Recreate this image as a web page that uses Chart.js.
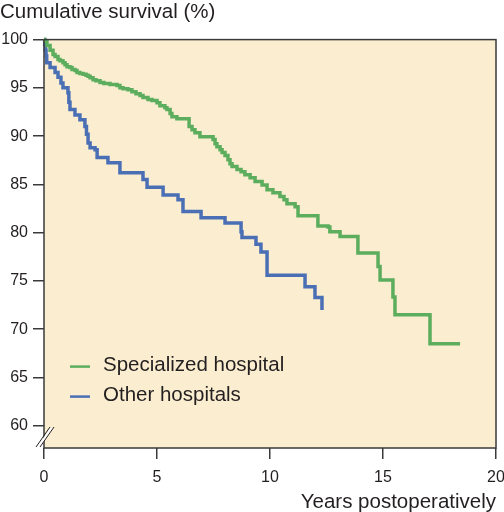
<!DOCTYPE html>
<html>
<head>
<meta charset="utf-8">
<script src="https://cdn.jsdelivr.net/npm/chart.js@4.4.1/dist/chart.umd.min.js"></script>
<style>
  html, body { margin: 0; padding: 0; background: #fff; }
  #wrap { width: 504px; height: 512px; position: relative; }
</style>
</head>
<body>
<div id="wrap"><canvas id="survivalChart"></canvas></div>
<script>
// Kaplan-Meier steps: years postoperatively and cumulative survival (%)
var specYears = [0, 0.04, 0.13, 0.27, 0.40, 0.49, 0.62, 0.71, 0.84, 0.93, 1.02, 1.15, 1.24, 1.37, 1.46, 1.59, 1.73, 1.86, 1.95, 2.04,
  2.17, 2.30, 2.48, 2.65, 2.92, 3.23, 3.36, 3.50, 3.72, 3.89, 4.07, 4.25, 4.38, 4.60, 4.78, 5.00, 5.13, 5.35, 5.44, 5.58,
  5.66, 5.88, 6.42, 6.55, 6.68, 6.90, 7.48, 7.57, 7.65, 7.79, 7.88, 8.01, 8.14, 8.23, 8.32, 8.54, 8.72, 8.89, 9.12, 9.34,
  9.65, 9.87, 10.13, 10.44, 10.62, 10.75, 11.11, 11.24, 12.12, 12.57, 12.65, 13.10, 13.89, 14.78, 14.87, 15.44, 15.53, 17.08, 18.41];
var specSurvival = [100, 99.8, 99.4, 98.9, 98.45, 98.25, 97.95, 97.8, 97.6, 97.4, 97.2, 97.1, 96.9, 96.8, 96.6, 96.5, 96.4, 96.3, 96.2, 96.05,
  95.85, 95.75, 95.55, 95.45, 95.35, 95.25, 95.0, 94.9, 94.8, 94.6, 94.4, 94.2, 94.0, 93.8, 93.7, 93.45, 93.15, 92.95, 92.75, 92.35,
  92.0, 91.8, 91.0, 90.65, 90.35, 89.95, 89.65, 89.2, 88.9, 88.6, 88.3, 88.0, 87.55, 87.15, 86.85, 86.55, 86.3, 86.0, 85.7, 85.3,
  84.95, 84.45, 84.15, 83.75, 83.4, 83.0, 82.7, 81.75, 80.7, 80.6, 80.1, 79.6, 77.9, 76.5, 75.1, 73.35, 71.5, 68.5, 68.5];

var otherYears = [0, 0.03, 0.06, 0.09, 0.12, 0.27, 0.49, 0.62, 0.75, 0.84, 1.06, 1.10, 1.15, 1.37, 1.59, 1.81, 1.88, 1.95, 2.04, 2.26,
  2.35, 2.83, 3.36, 4.38, 4.56, 5.27, 5.93, 6.15, 6.95, 8.01, 8.72, 8.76, 9.38, 9.60, 9.87, 11.55, 11.99, 12.30];
var otherSurvival = [100, 99.5, 98.9, 98.3, 97.6, 97.1, 96.6, 96.1, 95.5, 95.0, 94.5, 93.5, 92.75, 92.2, 91.7, 91.0, 90.2, 89.3, 88.8, 88.6,
  87.8, 87.25, 86.2, 85.5, 84.7, 83.9, 83.4, 82.2, 81.55, 81.0, 80.1, 79.5, 78.8, 78.0, 75.6, 74.4, 73.3, 72.0];

var seriesLabels = ["Specialized hospital", "Other hospitals"];
var yTicks = [60, 65, 70, 75, 80, 85, 90, 95, 100];
var xTicks = [0, 5, 10, 15, 20];

var FONT = "'Liberation Sans', Arial, Helvetica, sans-serif";
var INK = "#231f20";
var GREEN = "#5cad5d";
var BLUE = "#4a6fb5";
var PAPER = "#fbeed0";

function toPoints(xs, ys) {
  return xs.map(function (x, i) { return { x: x, y: ys[i] }; });
}

// background, frame, axis break and legend
var decor = {
  id: "decor",
  beforeDatasetsDraw: function (chart) {
    var a = chart.chartArea, ctx = chart.ctx;
    ctx.save();
    ctx.fillStyle = PAPER;
    ctx.fillRect(a.left, a.top, a.right - a.left, a.bottom - a.top);
    ctx.restore();
  },
  afterDraw: function (chart) {
    var a = chart.chartArea, ctx = chart.ctx;
    ctx.save();
    ctx.strokeStyle = "#3a3a3a";
    ctx.lineWidth = 1.5;
    ctx.strokeRect(a.left, a.top, a.right - a.left, a.bottom - a.top);

    // axis break "//"
    var yb = a.bottom - 11;
    ctx.fillStyle = "#fff";
    ctx.beginPath();
    ctx.moveTo(a.left - 6, yb + 9); ctx.lineTo(a.left + 6, yb - 9);
    ctx.lineTo(a.left + 9, yb - 9); ctx.lineTo(a.left - 3, yb + 9);
    ctx.closePath();
    ctx.fill();
    ctx.lineWidth = 1;
    ctx.strokeStyle = INK;
    ctx.beginPath();
    ctx.moveTo(a.left - 8, yb + 10); ctx.lineTo(a.left + 6, yb - 10);
    ctx.moveTo(a.left - 4, yb + 10); ctx.lineTo(a.left + 10, yb - 10);
    ctx.stroke();

    // legend
    ctx.font = "20.5px " + FONT;
    ctx.textBaseline = "middle";
    ctx.fillStyle = INK;
    chart.data.datasets.forEach(function (ds, i) {
      var y = a.top + 326 + i * 30;
      ctx.strokeStyle = ds.borderColor;
      ctx.lineWidth = 2.5;
      ctx.beginPath();
      ctx.moveTo(a.left + 26, y + 1);
      ctx.lineTo(a.left + 46, y + 1);
      ctx.stroke();
      ctx.fillText(ds.label, a.left + 59, y);
    });
    ctx.restore();
  }
};

var ctx = document.getElementById("survivalChart").getContext("2d");
var survivalChart = new Chart(ctx, {
  type: "line",
  data: {
    datasets: [
      {
        label: seriesLabels[0],
        data: toPoints(specYears, specSurvival),
        borderColor: GREEN,
        borderWidth: 3.5,
        stepped: true,
        pointRadius: 0,
        fill: false,
        clip: 3,
      },
      {
        label: seriesLabels[1],
        data: toPoints(otherYears, otherSurvival),
        borderColor: BLUE,
        borderWidth: 3.5,
        stepped: true,
        pointRadius: 0,
        fill: false,
        clip: 3,
      },
    ],
  },
  options: {
    responsive: true,
    maintainAspectRatio: false,
    animation: false,
    events: [],
    layout: {
      padding: { left: 0, right: 0, top: 0, bottom: 0 },
    },
    plugins: {
      legend: { display: false },
      tooltip: { enabled: false },
      title: {
        display: true,
        text: "Cumulative survival (%)",
        align: "start",
        color: INK,
        font: { family: FONT, size: 20.5, weight: "normal" },
        padding: { top: 0, bottom: 15 },
      },
    },
    scales: {
      x: {
        type: "linear",
        min: 0,
        max: 20,
        afterFit: function (scale) {
          scale.height = 64;
          scale.paddingLeft = 0;
          scale.paddingRight = 8;
        },
        afterBuildTicks: function (scale) {
          scale.ticks = xTicks.map(function (v) { return { value: v }; });
        },
        ticks: {
          color: INK,
          padding: 9,
          maxRotation: 0,
          font: { family: FONT, size: 16 },
        },
        grid: {
          drawOnChartArea: false,
          drawTicks: true,
          tickLength: 11,
          tickColor: "#3a3a3a",
          lineWidth: 1.5,
        },
        border: { display: false },
        title: {
          display: true,
          text: "Years postoperatively",
          align: "end",
          color: INK,
          font: { family: FONT, size: 20.5 },
          padding: { top: 0, bottom: -3 },
        },
      },
      y: {
        type: "linear",
        min: 57.7,
        max: 100,
        afterFit: function (scale) { scale.width = 44; },
        afterBuildTicks: function (scale) {
          scale.ticks = yTicks.map(function (v) { return { value: v }; });
        },
        ticks: {
          color: INK,
          padding: 5,
          font: { family: FONT, size: 16 },
        },
        grid: {
          drawOnChartArea: false,
          drawTicks: true,
          tickLength: 11,
          tickColor: "#3a3a3a",
          lineWidth: 1.5,
        },
        border: { display: false },
      },
    },
  },
  plugins: [decor],
});
</script>
</body>
</html>
